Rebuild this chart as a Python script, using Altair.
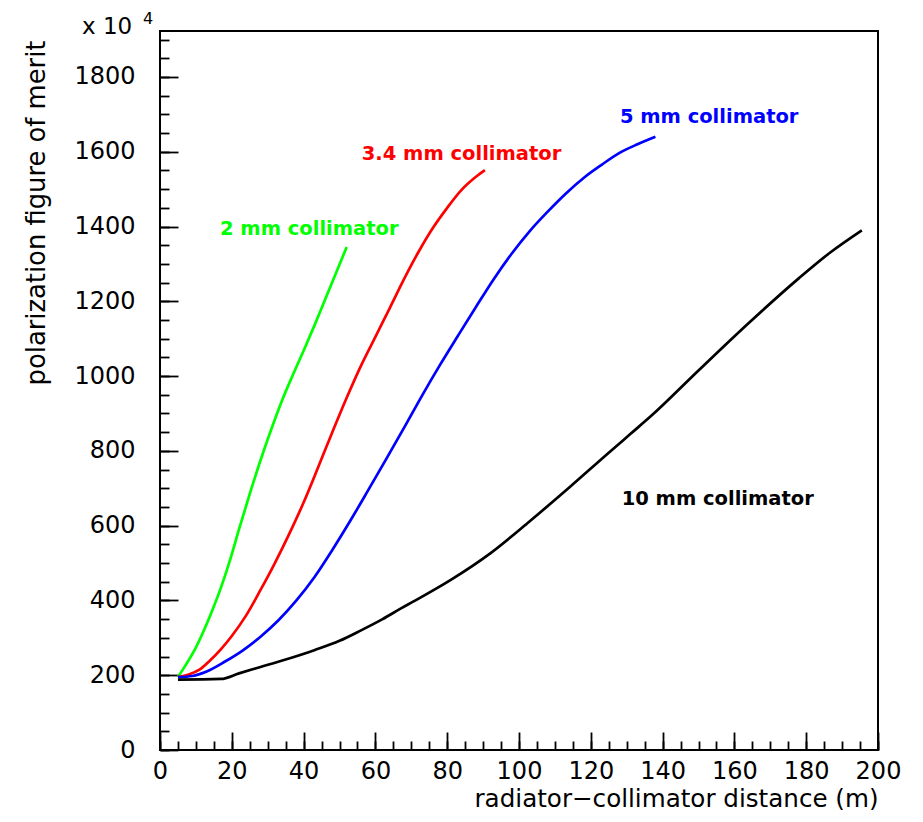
import altair as alt
import pandas as pd

# Radiator-collimator distance (m) and polarization figure of merit (x 10^4)
x_2mm = [5, 7, 9.5, 12, 14.5, 17, 19.5, 22, 25, 28, 31, 34, 37, 40, 43, 46, 49, 52]
y_2mm = [195, 225, 265, 315, 372, 435, 508, 590, 685, 775, 858, 935, 1003, 1068, 1135, 1205, 1275, 1345]

x_34mm = [5, 8, 11, 14, 17, 20, 24, 28, 32, 36, 40, 44, 48, 52, 56, 60, 64, 68, 72, 76, 80, 84, 88, 90.5]
y_34mm = [195, 202, 215, 240, 270, 305, 360, 428, 500, 578, 662, 755, 850, 942, 1028, 1105, 1182,
          1260, 1332, 1396, 1450, 1498, 1533, 1551]

x_5mm = [5, 9, 13, 18, 23, 28, 33, 38, 43, 48, 53, 58, 63, 68, 73, 78, 83, 88, 93, 98, 103, 108,
         113, 118, 123, 128, 133, 138]
y_5mm = [195, 198, 210, 236, 266, 303, 347, 400, 462, 535, 613, 695, 778, 862, 948, 1030, 1108,
         1185, 1260, 1328, 1388, 1440, 1488, 1530, 1565, 1597, 1620, 1640]

x_10mm = [5, 17, 22, 28, 35, 43, 50, 56, 62, 67, 70, 81, 92, 103, 114, 125, 131, 137, 150, 164,
          178, 186.6, 195.5]
y_10mm = [188, 190, 205, 222, 242, 267, 292, 320, 350, 378, 394, 455, 526, 612, 702, 795, 845, 895,
          1015, 1142, 1262, 1330, 1390]

series_names = ["2 mm collimator", "3.4 mm collimator", "5 mm collimator", "10 mm collimator"]
series_colors = ["#00ff00", "#ff0000", "#0000ff", "#000000"]

# curve labels placed in data coordinates (left end, baseline)
label_x = [16.7, 56.2, 128.1, 128.6]
label_y = [1377, 1578, 1676, 655]

x_major = list(range(0, 201, 20))
x_minor = list(range(0, 201, 5))
y_major = list(range(0, 1801, 200))
y_minor = list(range(0, 1901, 50))

rows = []
for name, xs, ys in zip(series_names, [x_2mm, x_34mm, x_5mm, x_10mm],
                        [y_2mm, y_34mm, y_5mm, y_10mm]):
    for i, (a, b) in enumerate(zip(xs, ys)):
        rows.append({"series": name, "x": a, "y": b, "order": i})
df = pd.DataFrame(rows)
labels_df = pd.DataFrame({"series": series_names, "x": label_x, "y": label_y})

W, H = 718, 719
FONT = "DejaVu Sans"
xscale = alt.Scale(domain=[0, 200], nice=False, zero=False)
yscale = alt.Scale(domain=[0, 1923], nice=False, zero=False)
color = alt.Color("series:N", scale=alt.Scale(domain=series_names, range=series_colors), legend=None)

lines = alt.Chart(df).mark_line(strokeWidth=2.7, interpolate="monotone").encode(
    x=alt.X("x:Q", scale=xscale, axis=alt.Axis(
        orient="bottom", values=x_major, ticks=False, tickSize=0, domain=False, grid=False,
        labelFont=FONT, labelFontSize=24, labelColor="black", labelPadding=9,
        labelFlush=False, labelOverlap=False, labelBound=False, format="d",
        title="radiator\u2212collimator distance (m)", titleFont=FONT, titleFontSize=24.6,
        titleFontWeight="normal", titleColor="black", titleAlign="right", titleAnchor="end",
        titleX=W, titleY=56, titleBaseline="alphabetic")),
    y=alt.Y("y:Q", scale=yscale, axis=alt.Axis(
        orient="left", values=y_major, ticks=False, tickSize=0, domain=False, grid=False,
        labelFont=FONT, labelFontSize=24, labelColor="black", labelPadding=25,
        labelFlush=False, labelOverlap=False, labelBound=False, format="d",
        title="polarization figure of merit", titleFont=FONT, titleFontSize=25.8,
        titleFontWeight="normal", titleColor="black", titleAngle=270, titleAlign="right",
        titleX=-116, titleY=9, titleBaseline="alphabetic")),
    color=color,
    order="order:Q",
)


def tick_layer(xaxis, yaxis):
    return alt.Chart(df).mark_line(opacity=0).encode(
        x=alt.X("x:Q", scale=xscale, axis=xaxis),
        y=alt.Y("y:Q", scale=yscale, axis=yaxis),
        detail="series:N",
    )


def inner_axis(orient, offset, values, size):
    return alt.Axis(orient=orient, offset=offset, values=values, labels=False, domain=False,
                    grid=False, ticks=True, tickSize=size, tickWidth=1.8, tickColor="black",
                    title=None)


x_major_ticks = tick_layer(inner_axis("top", -H, x_major, 18), None)
x_minor_ticks = tick_layer(inner_axis("top", -H, x_minor, 9), None)
y_major_ticks = tick_layer(None, inner_axis("right", -W, y_major, 18))
y_minor_ticks = tick_layer(None, inner_axis("right", -W, y_minor, 9))

curve_labels = alt.Chart(labels_df).mark_text(
    font=FONT, fontSize=19.5, fontWeight="bold", align="left", baseline="alphabetic"
).encode(
    x=alt.X("x:Q", scale=xscale, axis=None),
    y=alt.Y("y:Q", scale=yscale, axis=None),
    text="series:N",
    color=color,
)

# axis multiplier "x 10^4" above the y axis
mult = alt.Chart(pd.DataFrame({"t": ["x 10"]})).mark_text(
    font=FONT, fontSize=23, align="left", baseline="alphabetic", color="black"
).encode(x=alt.value(-78), y=alt.value(3), text="t:N")
mult_exp = alt.Chart(pd.DataFrame({"t": ["4"]})).mark_text(
    font=FONT, fontSize=16, align="left", baseline="alphabetic", color="black"
).encode(x=alt.value(-17), y=alt.value(-7), text="t:N")

chart = alt.layer(
    lines, x_major_ticks, x_minor_ticks, y_major_ticks, y_minor_ticks, curve_labels, mult, mult_exp
).resolve_axis(x="independent", y="independent").properties(
    width=W, height=H,
    autosize=alt.AutoSizeParams(type="none"),
    padding={"left": 160, "top": 31, "right": 45, "bottom": 72},
    background="white",
).configure_view(stroke="black", strokeWidth=2)

chart.save("out.html", embed_options={"renderer": "svg", "actions": False})
